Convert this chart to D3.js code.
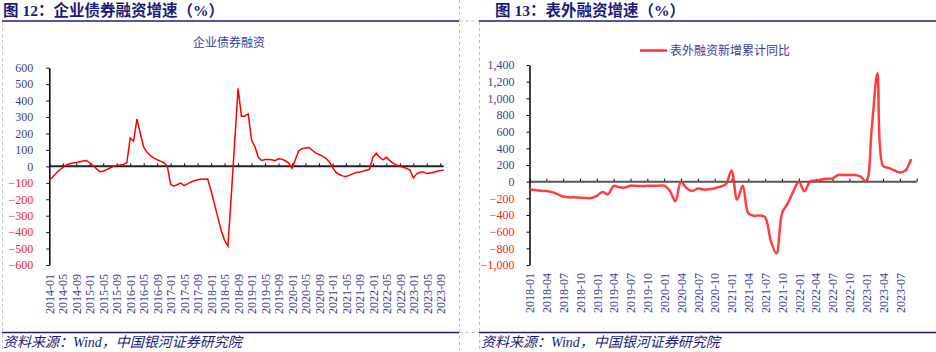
<!DOCTYPE html>
<html>
<head>
<meta charset="utf-8">
<style>
  body { margin: 0; background: #fff; }
  svg text { font-family: "Liberation Serif", "Noto Sans CJK SC", serif; }
</style>
</head>
<body>
<div id="chart"></div>
<script src="https://d3js.org/d3.v7.min.js"></script>
<script>
// ---- data ----
// 企业债券融资增速, monthly 2014-01 .. 2023-10
var bondValues = [
  -85, -65, -42, -22, -8, 8, 16, 20, 24, 28, 32, 35,
  22, 5, -15, -32, -30, -20, -10, 0, 5, 8, 12, 22,
  172, 153, 288, 200, 117, 85, 65, 52, 40, 32, 22, 2,
  -111, -121, -110, -102, -117, -107, -95, -88, -82, -79, -78, -77,
  -150, -230, -310, -390, -450, -485, -175, 150, 475, 305, 305, 320,
  160, 120, 55, 36, 42, 41, 40, 34, 46, 44, 34, 20,
  -12, 40, 95, 108, 112, 115, 98, 82, 72, 62, 50, 30,
  -5, -35, -50, -58, -62, -55, -46, -38, -35, -30, -24, -18,
  55, 80, 55, 40, 55, 35, 20, 8, 0, -5, -12, -22,
  -70, -45, -36, -34, -44, -40, -36, -30, -26, -22
];
// 表外融资新增累计同比, monthly 2018-01 .. 2023-09
var offBalanceValues = [
  -90, -100, -110, -112, -125, -150, -178, -188, -188, -192, -196, -196,
  -170, -125, -150, -50, -68, -70, -48, -50, -52, -50, -48, -48,
  -48, -110, -235, 0, -80, -112, -82, -95, -92, -78, -60, -30,
  135, -215, -50, -380, -410, -405, -430, -710, -860, -380, -260, -120,
  0, -115, 0, 12, 25, 35, 40, 80, 80, 80, 80, 60,
  5, 650, 1300, 190, 165, 135, 110, 135, 270
];
var bondTicksY = [600, 500, 400, 300, 200, 100, 0, -100, -200, -300, -400, -500, -600];
var offTicksY = [1400, 1200, 1000, 800, 600, 400, 200, 0, -200, -400, -600, -800, -1000];
var bondLabels = ["2014-01","2014-05","2014-09","2015-01","2015-05","2015-09","2016-01","2016-05",
  "2016-09","2017-01","2017-05","2017-09","2018-01","2018-05","2018-09","2019-01","2019-05","2019-09",
  "2020-01","2020-05","2020-09","2021-01","2021-05","2021-09","2022-01","2022-05","2022-09",
  "2023-01","2023-05","2023-09"];
var offLabels = ["2018-01","2018-04","2018-07","2018-10","2019-01","2019-04","2019-07","2019-10",
  "2020-01","2020-04","2020-07","2020-10","2021-01","2021-04","2021-07","2021-10","2022-01",
  "2022-04","2022-07","2022-10","2023-01","2023-04","2023-07"];

var fmtMonth = d3.timeFormat("%Y-%m");
var bondMonths = d3.timeMonth.range(new Date(2014, 0, 1), new Date(2023, 10, 1)).map(fmtMonth);
var offMonths = d3.timeMonth.range(new Date(2018, 0, 1), new Date(2023, 9, 1)).map(fmtMonth);

var navy = "#1c1c78";
var labelBlue = "#3d3d9e";
var width = 936, height = 352;

var svg = d3.select("#chart").append("svg")
  .attr("width", width)
  .attr("height", height);

// ---- frame: titles, rules, dashed borders ----
function dashed(x1, y1, x2, y2) {
  svg.append("line")
    .attr("x1", x1).attr("y1", y1).attr("x2", x2).attr("y2", y2)
    .attr("stroke", "#c0c0c0").attr("stroke-width", 1)
    .attr("stroke-dasharray", "3,3");
}
dashed(2.5, 22, 2.5, 352);
dashed(459.5, 0, 459.5, 352);
dashed(479.5, 22, 479.5, 352);
dashed(459.5, 21, 479.5, 21);
dashed(459.5, 332.5, 479.5, 332.5);

function rule(x1, x2, y) {
  svg.append("line")
    .attr("x1", x1).attr("y1", y).attr("x2", x2).attr("y2", y)
    .attr("stroke", navy).attr("stroke-width", 1.5);
}
rule(2, 459, 21);
rule(479, 936, 21);
rule(2, 459, 332.5);
rule(479, 936, 332.5);

function title(x, t) {
  svg.append("text")
    .attr("x", x).attr("y", 16)
    .attr("font-size", "15.5px")
    .attr("font-weight", "bold")
    .attr("fill", navy)
    .text(t);
}
title(3, "图 12：企业债券融资增速（%）");
title(495, "图 13：表外融资增速（%）");

function source(x) {
  svg.append("text")
    .attr("x", x).attr("y", 347)
    .attr("font-size", "14px")
    .attr("font-style", "italic")
    .attr("fill", navy)
    .text("资料来源：Wind，中国银河证券研究院");
}
source(3);
source(481);

// ---- shared helpers ----
function yAxis(g, scale, ticks, fmt, pad) {
  g.call(d3.axisLeft(scale).tickValues(ticks).tickSize(3).tickSizeOuter(0).tickPadding(pad).tickFormat(fmt));
  g.select(".domain").attr("stroke", "#000").attr("stroke-width", 1.5);
  g.selectAll(".tick line").attr("stroke", "#000");
  g.selectAll(".tick text")
    .attr("font-family", "Liberation Serif, serif")
    .attr("font-size", "12px")
    .attr("fill", function(d) { return d < 0 ? "#ff2020" : labelBlue; });
}

function xLabels(g, scale, cats, labels, off) {
  g.call(d3.axisBottom(scale).tickValues(labels.map(function(l) { return cats.indexOf(l); }))
    .tickSize(0).tickFormat(function(i) { return cats[i]; }));
  g.select(".domain").remove();
  g.selectAll(".tick text")
    .attr("font-family", "Liberation Serif, serif")
    .attr("font-size", "12px")
    .attr("fill", labelBlue)
    .attr("transform", "rotate(-90)")
    .attr("x", -off).attr("y", 0).attr("dy", "0.35em")
    .style("text-anchor", "end");
}

function zeroAxis(g, scale, tickIdx, x0, x1, color) {
  g.call(d3.axisTop(scale).tickValues(tickIdx).tickSize(3).tickSizeOuter(0).tickFormat(""));
  g.select(".domain").remove();
  g.selectAll(".tick line").attr("stroke", "#000").attr("stroke-width", 1);
  g.append("line")
    .attr("x1", x0).attr("x2", x1)
    .attr("stroke", color).attr("stroke-width", 2);
}

// ---- left chart: 企业债券融资 ----
var xL = d3.scaleLinear().domain([0, 116]).range([49.3, 440.3]);
var yL = d3.scaleLinear().domain([-600, 600]).range([265, 67.7]);

svg.append("text")
  .attr("x", 229).attr("y", 47)
  .attr("text-anchor", "middle")
  .attr("font-family", "Noto Sans CJK SC, sans-serif")
  .attr("font-size", "12px")
  .attr("fill", labelBlue)
  .text("企业债券融资");

var bondTickIdx = bondLabels.map(function(l) { return bondMonths.indexOf(l); });
zeroAxis(svg.append("g").attr("transform", "translate(0," + yL(0) + ")"),
  xL, bondTickIdx, xL(0), xL(bondValues.length - 1), "#222");

yAxis(svg.append("g").attr("transform", "translate(" + xL(0) + ",0)"),
  yL, bondTicksY, d3.format("d"), 13);

xLabels(svg.append("g").attr("transform", "translate(0," + yL(-600) + ")"),
  xL, bondMonths, bondLabels, 9);

svg.append("path")
  .datum(bondValues)
  .attr("fill", "none")
  .attr("stroke", "#ff0000")
  .attr("stroke-width", 1.5)
  .attr("d", d3.line()
    .x(function(d, i) { return xL(i); })
    .y(function(d) { return yL(d); }));

// ---- right chart: 表外融资新增累计同比 ----
var xR = d3.scaleLinear().domain([0, 69]).range([529.5, 916.7]);
var yR = d3.scaleLinear().domain([-1000, 1400]).range([265, 65]);

svg.append("line")
  .attr("x1", 640).attr("x2", 667).attr("y1", 50.5).attr("y2", 50.5)
  .attr("stroke", "#ff3030").attr("stroke-width", 2.5);
svg.append("text")
  .attr("x", 670).attr("y", 55)
  .attr("font-family", "Noto Sans CJK SC, sans-serif")
  .attr("font-size", "12px")
  .attr("fill", labelBlue)
  .text("表外融资新增累计同比");

var offTickIdx = d3.range(0, 70, 3);
zeroAxis(svg.append("g").attr("transform", "translate(0," + yR(0) + ")"),
  xR, offTickIdx, xR(0), xR(69), "#555");

yAxis(svg.append("g").attr("transform", "translate(" + xR(0) + ",0)"),
  yR, offTicksY, d3.format(","), 12);

xLabels(svg.append("g").attr("transform", "translate(0," + yR(-1000) + ")"),
  xR, offMonths, offLabels, 8);

svg.append("path")
  .datum(offBalanceValues)
  .attr("fill", "none")
  .attr("stroke", "#ff2a2a")
  .attr("stroke-opacity", 0.9)
  .attr("stroke-width", 2.5)
  .attr("d", d3.line()
    .curve(d3.curveCatmullRom.alpha(0.5))
    .x(function(d, i) { return xR(i); })
    .y(function(d) { return yR(d); }));
</script>
</body>
</html>
